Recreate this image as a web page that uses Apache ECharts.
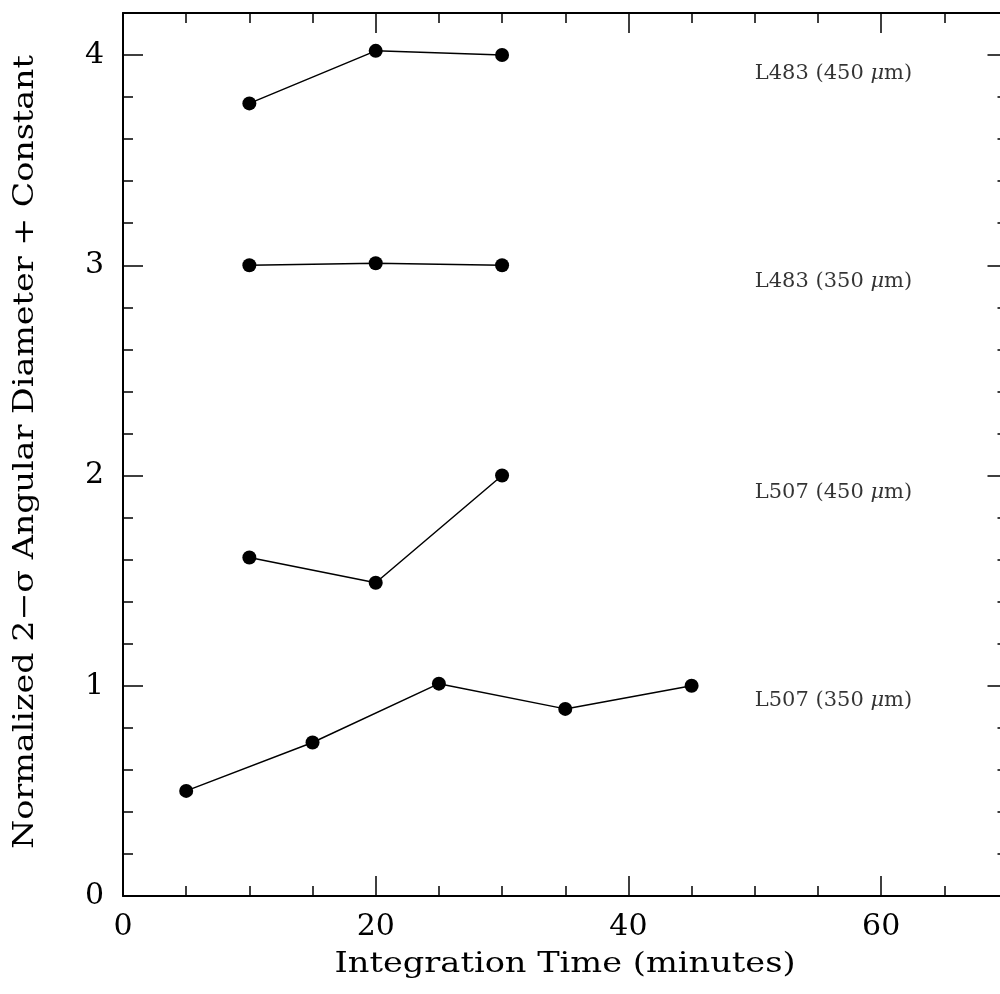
<!DOCTYPE html>
<html>
<head>
<meta charset="utf-8">
<script src="https://cdn.jsdelivr.net/npm/echarts@6/dist/echarts.min.js"></script>
<style>
html,body{margin:0;padding:0;background:#fff;overflow:hidden;width:1000px;height:994px;}
#c{width:1008px;height:994px;}
</style>
</head>
<body>
<div id="c"></div>
<script>
// Data
const l507_350 = [[5, 0.50], [15, 0.73], [25, 1.01], [35, 0.89], [45, 1.00]];
const l507_450 = [[10, 1.61], [20, 1.49], [30, 2.00]];
const l483_350 = [[10, 3.00], [20, 3.01], [30, 3.00]];
const l483_450 = [[10, 3.77], [20, 4.02], [30, 4.00]];
const labelNames = ['L483 (450 {i|μ}m)', 'L483 (350 {i|μ}m)', 'L507 (450 {i|μ}m)', 'L507 (350 {i|μ}m)'];
const labelAnchors = [[50, 3.91], [50, 2.925], [50, 1.92], [50, 0.93]];
const xTitle = 'Integration Time (minutes)';
const yTitle = 'Normalized 2\u2212\u03C3 Angular Diameter + Constant';

const FONT = 'DejaVu Serif';
const X_MIN = 0, X_MAX = 70, Y_MIN = 0, Y_MAX = 4.2;

function xAx(pos, major, opts) {
  return Object.assign({
    type: 'value', position: pos, min: X_MIN, max: X_MAX,
    interval: major ? 20 : 5,
    axisLine: { show: major, onZero: false, lineStyle: { color: '#000', width: 2 } },
    axisTick: { show: true, inside: true, length: major ? 20 : 10, lineStyle: { color: '#000', width: 1.5 } },
    axisLabel: { show: false },
    splitLine: { show: false }
  }, opts || {});
}
function yAx(pos, major, opts) {
  return Object.assign({
    type: 'value', position: pos, min: Y_MIN, max: Y_MAX,
    interval: major ? 1 : 0.2,
    axisLine: { show: major, onZero: false, lineStyle: { color: '#000', width: 2 } },
    axisTick: { show: true, inside: true, length: major ? 20 : 10, lineStyle: { color: '#000', width: 1.5 } },
    axisLabel: { show: false },
    splitLine: { show: false }
  }, opts || {});
}

const lineSeries = (data) => ({
  type: 'line', data: data, xAxisIndex: 0, yAxisIndex: 0,
  symbol: 'circle', symbolSize: 14, showAllSymbol: true,
  lineStyle: { color: '#000', width: 1.5 },
  itemStyle: { color: '#000' },
  silent: true, animation: false
});

const option = {
  animation: false,
  backgroundColor: '#fff',
  grid: { left: 123, top: 13, bottom: 98, right: 0.5, containLabel: false },
  xAxis: [
    xAx('bottom', true, {
      axisLabel: { show: true, margin: 16, fontFamily: FONT, fontSize: 30, color: '#000', showMaxLabel: false }
    }),
    xAx('bottom', false),
    xAx('top', true),
    xAx('top', false)
  ],
  yAxis: [
    yAx('left', true, {
      axisLabel: { show: true, margin: 19, fontFamily: FONT, fontSize: 30, color: '#000', showMaxLabel: false }
    }),
    yAx('left', false),
    yAx('right', true),
    yAx('right', false)
  ],
  graphic: [
    {
      type: 'text', x: 565, y: 965, scaleX: 1.2, silent: true,
      style: { text: xTitle, fontFamily: FONT, fontSize: 28, fill: '#000', align: 'center', verticalAlign: 'middle' }
    },
    {
      type: 'text', x: 26, y: 452, rotation: Math.PI / 2, scaleX: 1.19, silent: true,
      style: { text: yTitle, fontFamily: FONT, fontSize: 28, fill: '#000', align: 'center', verticalAlign: 'middle' }
    }
  ],
  series: [
    lineSeries(l507_350),
    lineSeries(l507_450),
    lineSeries(l483_350),
    lineSeries(l483_450),
    {
      type: 'scatter', xAxisIndex: 0, yAxisIndex: 0, symbolSize: 0, silent: true,
      data: labelAnchors.map((p, i) => ({ value: p, name: labelNames[i] })),
      label: {
        show: true, position: 'right', distance: 0,
        formatter: (p) => p.name,
        fontFamily: FONT, fontSize: 21, color: '#000',
        rich: { i: { fontFamily: FONT, fontStyle: 'italic', fontSize: 21, color: '#000' } }
      }
    }
  ]
};

const chart = echarts.init(document.getElementById('c'), null, { renderer: 'canvas' });
chart.setOption(option);
</script>
</body>
</html>
